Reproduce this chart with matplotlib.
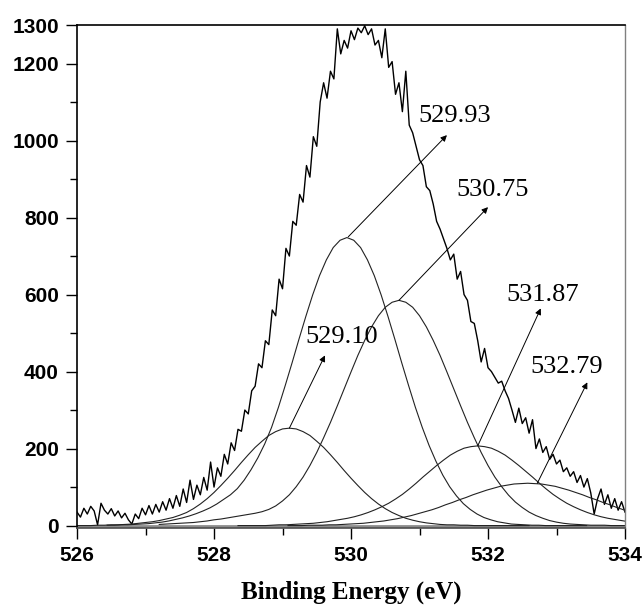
import numpy as np
import matplotlib
matplotlib.use("Agg")
import matplotlib.pyplot as plt
from matplotlib.ticker import MultipleLocator, FixedLocator

# measured O 1s spectrum, 526.00 .. 534.00 eV every 0.05 eV
energy = np.round(np.arange(0, 161) * 0.05 + 526.0, 2)
counts = [
    35, 22, 45, 30, 50, 38, 2, 58, 40, 30,
    44, 25, 38, 20, 32, 15, 4, 30, 18, 45,
    28, 52, 30, 55, 35, 62, 40, 70, 45, 78,
    50, 95, 60, 118, 68, 105, 80, 125, 92, 165,
    100, 150, 128, 185, 160, 215, 195, 250, 245, 300,
    290, 350, 362, 420, 410, 480, 470, 560, 545, 640,
    615, 720, 700, 790, 780, 860, 840, 935, 905, 1010,
    985, 1100, 1150, 1110, 1180, 1160, 1290, 1225, 1260, 1240,
    1285, 1262, 1292, 1280, 1298, 1275, 1290, 1248, 1260, 1215,
    1290, 1190, 1205, 1120, 1150, 1075, 1180, 1040, 1020, 985,
    950, 935, 880, 870, 835, 790, 770, 745, 720, 690,
    705, 640, 660, 600, 585, 530, 525, 480, 425, 460,
    410, 400, 385, 370, 375, 350, 330, 300, 268, 305,
    265, 280, 240, 275, 200, 225, 190, 205, 172, 185,
    160, 170, 140, 150, 128, 140, 112, 130, 100, 122,
    85, 30, 70, 95, 55, 80, 45, 70, 40, 62,
    35,
]

# fitted components, sampled from -3.5 to +3.5 eV around each centre
offsets = np.round(np.arange(-35, 36) * 0.1, 1)
centres = [529.10, 529.94, 530.70, 531.85, 532.58]
peak_1 = [0, 0, 0, 0, 0, 0, 0, 1, 1, 2, 2, 3, 4, 6, 8,
          10, 13, 17, 21, 27, 34, 44, 56, 70, 86,
          104, 123, 143, 164, 184, 203, 219, 234, 244, 251,
          253,
          251, 244, 234, 219, 203, 184, 164, 143, 123, 104,
          86, 70, 56, 44, 34, 26, 19, 14, 10, 7,
          5, 3, 2, 2, 1, 1, 0, 0, 0, 0, 0, 0, 0, 0, 0]
peak_2 = [1, 1, 2, 2, 3, 4, 5, 7, 9, 12, 16, 20, 25, 31, 38,
          46, 56, 68, 80, 96, 118, 145, 176, 212, 255,
          307, 364, 423, 484, 543, 599, 649, 690, 722, 741,
          748,
          741, 722, 690, 649, 599, 543, 484, 423, 364, 307,
          255, 208, 167, 131, 101, 77, 57, 42, 30, 21,
          15, 10, 7, 4, 3, 2, 1, 1, 0, 0, 0, 0, 0, 0, 0]
peak_3 = [3, 4, 5, 6, 7, 8, 10, 12, 15, 17, 20, 23, 26, 29, 32,
          36, 42, 51, 64, 80, 101, 126, 156, 190, 228,
          268, 311, 355, 399, 442, 481, 516, 545, 567, 580,
          585,
          580, 567, 545, 516, 481, 442, 399, 355, 311, 268,
          228, 190, 156, 126, 101, 79, 61, 47, 35, 26,
          19, 13, 9, 6, 4, 3, 2, 1, 1, 1, 0, 0, 0, 0, 0]
peak_4 = [0, 0, 0, 0, 0, 1, 2, 2, 3, 4, 5, 6, 8, 10, 13,
          16, 19, 23, 28, 34, 41, 49, 58, 69, 81,
          95, 110, 126, 141, 156, 170, 183, 193, 201, 205,
          207,
          205, 201, 193, 183, 170, 156, 141, 126, 110, 95,
          81, 69, 58, 49, 41, 34, 28, 23, 19, 16,
          13, 10, 8, 6, 5, 4, 3, 2, 2, 1, 1, 1, 0, 0, 0]
peak_5 = [0, 0, 0, 1, 1, 1, 2, 2, 3, 4, 5, 6, 8, 10, 12,
          15, 18, 22, 26, 31, 36, 41, 47, 54, 60,
          67, 73, 80, 86, 92, 97, 102, 105, 108, 109,
          110,
          109, 108, 105, 102, 97, 92, 86, 80, 73, 67,
          60, 54, 47, 41, 36, 31, 26, 22, 18, 15,
          12, 10, 8, 6, 5, 4, 3, 2, 2, 1, 1, 1, 0, 0, 0]
peaks = [peak_1, peak_2, peak_3, peak_4, peak_5]

# labels: text, arrow start (on the peak), arrow tip, text position
labels = ["529.10", "529.93", "530.75", "531.87", "532.79"]
arrow_start = [(529.10, 253), (529.96, 750), (530.70, 585), (531.85, 207), (532.72, 110)]
arrow_tip = [(529.62, 442), (531.40, 1014), (532.00, 827), (532.77, 564), (533.45, 372)]
text_pos = [(529.86, 491), (531.52, 1063), (532.07, 871), (532.80, 600), (533.15, 413)]

fig = plt.figure(figsize=(6.43, 6.10), dpi=100)
ax = fig.add_axes([0.1198, 0.1346, 0.8522, 0.8244])

ax.plot(energy, counts, color="black", lw=1.0)
for c, p in zip(centres, peaks):
    ax.plot(c + offsets, p, color="#222222", lw=0.8)
ax.axhline(0, color="0.55", lw=2.0, zorder=1)

for txt, s, e, t in zip(labels, arrow_start, arrow_tip, text_pos):
    ax.annotate("", xy=e, xytext=s,
                arrowprops=dict(arrowstyle="-|>", lw=0.7, color="black",
                                mutation_scale=9, shrinkA=0, shrinkB=0))
    ax.text(t[0], t[1], txt, ha="center", va="center",
            family="Liberation Serif", fontsize=19, color="black")

ax.set_xlim(526, 534)
ax.set_ylim(-6, 1300)
ax.xaxis.set_major_locator(MultipleLocator(2))
ax.xaxis.set_minor_locator(MultipleLocator(1))
ax.yaxis.set_major_locator(FixedLocator([0, 200, 400, 600, 800, 1000, 1200, 1300]))
ax.yaxis.set_minor_locator(FixedLocator([100, 300, 500, 700, 900, 1100]))

ax.tick_params(axis="both", which="major", direction="out", length=8, width=1.0, pad=5)
ax.tick_params(axis="both", which="minor", direction="out", length=5, width=1.0)
for lab in ax.get_xticklabels() + ax.get_yticklabels():
    lab.set_family("Liberation Sans")
    lab.set_fontweight("bold")
    lab.set_fontsize(15)

ax.spines["left"].set_linewidth(1.2)
ax.spines["top"].set_linewidth(1.2)
ax.spines["bottom"].set_linewidth(1.2)
ax.spines["bottom"].set_color("0.3")
ax.spines["right"].set_linewidth(1.0)
ax.spines["right"].set_color("0.5")

ax.set_xlabel("Binding Energy (eV)", family="Liberation Serif", fontweight="bold",
              fontsize=18, labelpad=11)

fig.savefig("out.png", dpi=100)
